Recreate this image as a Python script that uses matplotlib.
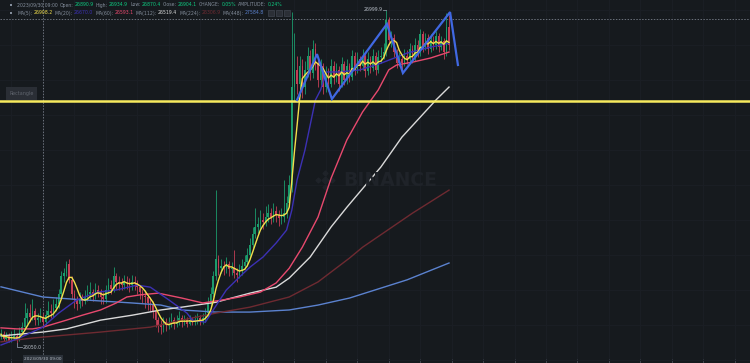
import matplotlib
matplotlib.use("Agg")
import matplotlib.pyplot as plt
import numpy as np
import pandas as pd
from matplotlib.patches import Rectangle

# ---------------- data ----------------
first_open = 26070
close = [
    26075, 26060, 26070, 26055, 26065, 26070, 26060, 26080, 26095, 26120,
    26135, 26125, 26140, 26115, 26120, 26125, 26110, 26130, 26140, 26135,
    26150, 26160, 26190, 26240, 26250, 26275, 26230, 26190, 26175, 26160,
    26175, 26170, 26180, 26190, 26195, 26185, 26200, 26195, 26180, 26175,
    26200, 26215, 26205, 26240, 26225, 26220, 26215, 26225, 26220, 26215,
    26225, 26220, 26210, 26195, 26185, 26180, 26165, 26160, 26140, 26115,
    26100, 26095, 26110, 26100, 26105, 26115, 26105, 26110, 26120, 26110,
    26115, 26105, 26115, 26110, 26115, 26120, 26110, 26120, 26135, 26160,
    26190, 26240, 26290, 26265, 26270, 26265, 26275, 26260, 26265, 26250,
    26245, 26255, 26270, 26280, 26300, 26330, 26360, 26380, 26390, 26400,
    26395, 26410, 26420, 26410, 26425, 26415, 26405, 26410, 26420, 26450,
    26500, 26780, 26830, 26790, 26840, 26780, 26830, 26870, 26820, 26890,
    26850, 26800, 26840, 26780, 26820, 26790, 26840, 26810, 26830, 26790,
    26845, 26800, 26840, 26810, 26870, 26830, 26860, 26840, 26870, 26825,
    26860, 26835, 26870, 26830, 26865, 26870, 26880, 26970, 26915, 26920,
    26880, 26850, 26860, 26850, 26870, 26860, 26890, 26865, 26900, 26880,
    26930, 26895, 26920, 26890, 26915, 26900, 26925, 26895, 26910, 26880,
    26950, 26900]
high = [
    26090, 26085, 26080, 26078, 26085, 26090, 26078, 26095, 26110, 26165,
    26150, 26160, 26175, 26150, 26135, 26150, 26135, 26145, 26170, 26160,
    26175, 26180, 26205, 26255, 26265, 26285, 26290, 26240, 26200, 26185,
    26195, 26190, 26200, 26215, 26225, 26205, 26220, 26215, 26205, 26195,
    26215, 26235, 26230, 26268, 26250, 26240, 26235, 26245, 26240, 26235,
    26245, 26240, 26230, 26215, 26205, 26200, 26190, 26180, 26170, 26150,
    26125, 26115, 26125, 26120, 26125, 26135, 26125, 26130, 26140, 26130,
    26130, 26125, 26130, 26125, 26130, 26135, 26130, 26135, 26150, 26180,
    26210, 26255, 26486, 26300, 26290, 26285, 26295, 26285, 26280, 26315,
    26265, 26275, 26290, 26300, 26320, 26350, 26380, 26435, 26410, 26430,
    26420, 26440, 26445, 26435, 26450, 26440, 26430, 26435, 26515, 26470,
    26530, 26995, 26935, 26870, 26870, 26860, 26855, 26895, 26885, 26915,
    26905, 26865, 26860, 26850, 26840, 26835, 26860, 26855, 26850, 26840,
    26865, 26855, 26860, 26850, 26885, 26880, 26880, 26870, 26890, 26880,
    26880, 26870, 26890, 26880, 26885, 26895, 26905, 26999.9, 26980, 26940,
    26930, 26890, 26880, 26875, 26890, 26885, 26905, 26900, 26920, 26915,
    26945, 26940, 26935, 26930, 26930, 26925, 26940, 26935, 26925, 26920,
    26990, 26985]
low = [
    26060, 26056, 26055, 26052, 26053, 26058, 26050, 26055, 26072, 26090,
    26105, 26110, 26115, 26100, 26100, 26110, 26095, 26100, 26120, 26120,
    26125, 26140, 26150, 26180, 26225, 26240, 26220, 26175, 26150, 26145,
    26150, 26155, 26160, 26170, 26175, 26170, 26175, 26180, 26160, 26160,
    26165, 26190, 26190, 26195, 26205, 26200, 26200, 26205, 26205, 26195,
    26200, 26200, 26190, 26175, 26165, 26150, 26145, 26140, 26120, 26095,
    26080, 26075, 26080, 26085, 26090, 26095, 26090, 26095, 26100, 26095,
    26100, 26095, 26100, 26100, 26100, 26105, 26100, 26105, 26110, 26125,
    26150, 26180, 26230, 26245, 26250, 26245, 26250, 26240, 26245, 26235,
    26225, 26235, 26245, 26260, 26270, 26290, 26320, 26350, 26365, 26375,
    26375, 26385, 26395, 26390, 26395, 26395, 26385, 26390, 26395, 26405,
    26440, 26480, 26740, 26760, 26760, 26750, 26760, 26810, 26800, 26805,
    26830, 26780, 26785, 26760, 26765, 26770, 26780, 26790, 26795, 26770,
    26780, 26785, 26790, 26795, 26800, 26815, 26820, 26825, 26830, 26810,
    26815, 26820, 26825, 26815, 26820, 26850, 26860, 26870, 26900, 26895,
    26865, 26835, 26840, 26830, 26840, 26845, 26850, 26850, 26855, 26865,
    26870, 26880, 26885, 26875, 26880, 26885, 26890, 26880, 26885, 26860,
    26870, 26885]

ma20_idx = [0, 7, 16, 22, 29, 37, 44, 52, 57, 64, 71, 73, 78, 81, 86, 91, 95,
            100, 105, 109, 111, 113, 116, 120, 122, 124, 129, 137, 145, 155, 164, 171]
ma20_val = [26044, 26064, 26095, 26135, 26173, 26195, 26201, 26215, 26209, 26173,
            26135, 26115, 26109, 26144, 26201, 26238, 26266, 26295, 26335, 26372,
            26429, 26515, 26600, 26743, 26772, 26823, 26823, 26829, 26848, 26877,
            26894, 26905]
ma60_idx = [0, 6, 12, 16, 25, 31, 38, 44, 48, 53, 60, 69, 77, 85, 91, 99, 105,
            110, 115, 121, 126, 132, 138, 144, 148, 151, 157, 164, 171]
ma60_val = [26093, 26090, 26090, 26095, 26115, 26129, 26144, 26164, 26181, 26187,
            26192, 26178, 26164, 26173, 26181, 26195, 26221, 26263, 26323, 26409,
            26520, 26629, 26709, 26772, 26829, 26843, 26851, 26863, 26880]
ma112_idx = [0, 16, 25, 38, 50, 61, 69, 82, 95, 105, 110, 118, 126, 132, 145,
             153, 166, 171]
ma112_val = [26070, 26081, 26090, 26115, 26129, 26144, 26152, 26166, 26192, 26209,
             26235, 26295, 26381, 26437, 26552, 26637, 26743, 26780]
ma224_idx = [0, 12, 38, 57, 69, 82, 95, 110, 121, 133, 138, 157, 171]
ma224_val = [26053, 26064, 26081, 26095, 26115, 26135, 26152, 26181, 26224, 26292,
             26323, 26420, 26486]
ma448_idx = [0, 16, 31, 50, 61, 69, 82, 95, 110, 121, 133, 155, 171]
ma448_val = [26210, 26181, 26173, 26164, 26158, 26144, 26138, 26138, 26144, 26158,
             26178, 26230, 26278]

zigzag_idx = [113, 120.6, 126.3, 147.3, 153.4, 171.4, 174.4]
zigzag_val = [26743, 26874, 26746, 26960, 26820, 26994, 26843]

hline_price = 26740
cross_idx = 16
cross_price = 26974
max_label = "26999.9"
min_label = "26050.0"

header_time = "2023/09/30 09:00"
header_ohlc = [("Open:", "26890.9"), ("High:", "26934.9"), ("Low:", "26870.4"),
               ("Close:", "26904.1"), ("CHANGE:", "0.05%"), ("AMPLITUDE:", "0.24%")]
ma_labels = ["MA(5):", "MA(20):", "MA(60):", "MA(112):", "MA(224):", "MA(448):"]
ma_values = ["26908.2", "26670.0", "26593.1", "26519.4", "26306.9", "27584.8"]

# ---------------- style ----------------
BG = "#161a1e"
GREEN = "#1b9c6c"
RED = "#c43f56"
C_MA5 = "#f3e04c"
C_MA20 = "#3c31b4"
C_MA60 = "#e8496e"
C_MA112 = "#dadada"
C_MA224 = "#6e2a31"
C_MA448 = "#5b82cf"
C_ZZ = "#4068e2"
C_HL = "#f7ea5e"
GRAY = "#848e9c"
TGREEN = "#0ecb81"

W, H = 750, 363
fig = plt.figure(figsize=(W / 100, H / 100), dpi=100, facecolor=BG)
ax = fig.add_axes([0, 0, 1, 1])
ax.set_facecolor(BG)
ppc = 2.62
ax.set_xlim(-1.0 / ppc, (W - 1.0) / ppc)
ax.set_ylim(25992.7, 27028.4)
for s in ax.spines.values():
    s.set_visible(False)

ax.set_xticks(np.arange(4, 290, 12))
ax.set_yticks(np.arange(26000, 27050, 100))
ax.tick_params(axis="x", direction="in", length=3, width=0.6, color="#474d57",
               labelbottom=False, bottom=True, top=False)
ax.tick_params(axis="y", left=False, labelleft=False)
ax.grid(True, color="#1b1f25", lw=0.7, zorder=0)
ax.set_axisbelow(True)

n = min(len(close), len(high), len(low))
c = np.array(close[:n], dtype=float)
h = np.array(high[:n], dtype=float)
l = np.array(low[:n], dtype=float)
o = np.r_[first_open, c[:-1]]
idx = np.arange(n)
cols = np.where(c >= o, GREEN, RED)
ax.vlines(idx, l, h, colors=cols, lw=0.6, zorder=2)
body_lo = np.minimum(o, c)
body_h = np.maximum(np.abs(c - o), 3)
ax.bar(idx, body_h, bottom=body_lo, width=0.6, color=cols, lw=0, zorder=2)

ma5 = pd.Series(c).rolling(5, min_periods=1).mean()
lw = 1.0
ax.plot(ma448_idx, ma448_val, color=C_MA448, lw=lw, zorder=3)
ax.plot(ma224_idx, ma224_val, color=C_MA224, lw=lw, zorder=3)
ax.plot(ma112_idx, ma112_val, color=C_MA112, lw=lw, zorder=3)
ax.plot(ma60_idx, ma60_val, color=C_MA60, lw=lw, zorder=3)
ax.plot(ma20_idx, ma20_val, color=C_MA20, lw=lw, zorder=3)
ax.plot(idx, ma5, color=C_MA5, lw=lw, zorder=3.5)

# crosshair
ax.axvline(cross_idx, color="#6b717b", lw=0.7, ls=(0, (1.5, 1.5)), zorder=1)
ax.axhline(cross_price, color="#6b717b", lw=0.7, ls=(0, (1.5, 1.5)), zorder=1)

# horizontal drawing line and zigzag
ax.axhline(hline_price, color=C_HL, lw=1.8, zorder=4)
ax.plot(zigzag_idx, zigzag_val, color=C_ZZ, lw=1.6, zorder=5, solid_joinstyle="miter")

# max / min labels
imax = int(np.argmax(h))
imin = int(np.argmin(l))
ax.plot([imax - 1.1, imax], [h[imax], h[imax]], color=GRAY, lw=0.6, zorder=5)
ax.text(imax - 1.3, h[imax], max_label, ha="right", va="center", fontsize=3.3,
        color="#b7bdc6", zorder=6)
ax.plot([imin, imin, imin + 2], [l[imin], l[imin] - 12, l[imin] - 12], color=GRAY,
        lw=0.6, zorder=5)
ax.text(imin + 2.3, l[imin] - 12, min_label, ha="left", va="center", fontsize=3.3,
        color="#b7bdc6", zorder=6)

# watermark
WM = "#1f2329"
fig.text(390 / W, 1 - 180 / H, "BINANCE", ha="center", va="center", fontsize=13.5,
         fontweight="bold", color=WM, zorder=1)
for dx, dy, ms in [(0, 0, 3.5), (-7, 0, 2.5), (7, 0, 2.5), (0, -7, 2.5), (0, 7, 2.5)]:
    ax.plot([(325 + dx) / W], [1 - (180 + dy) / H], marker="D", ms=ms, color=WM,
            transform=ax.transAxes, zorder=1)

# "Rectangle" label
fig.patches.append(Rectangle((6 / W, 1 - 100 / H), 31 / W, 13 / H, transform=fig.transFigure,
                             facecolor="#2a2e35", edgecolor="none", zorder=6))
fig.text(21.5 / W, 1 - 93.5 / H, "Rectangle", ha="center", va="center", fontsize=3.5,
         color="#5f646d", zorder=7)

# bottom crosshair time label
fig.patches.append(Rectangle((23 / W, 0), 40 / W, 8 / H, transform=fig.transFigure,
                             facecolor="#2b3139", edgecolor="none", zorder=6))
fig.text(43 / W, 1 - 359 / H, header_time, ha="center", va="center", fontsize=3.1,
         color="#b7bdc6", zorder=7)

# header
renderer = fig.canvas.get_renderer()
FS = 3.3


def draw_runs(runs, x_px, y_px):
    x = x_px
    for txt, col, gap in runs:
        t = fig.text(x / W, 1 - y_px / H, txt, color=col, fontsize=FS, ha="left",
                     va="center", zorder=8)
        bb = t.get_window_extent(renderer=renderer)
        x = bb.x1 + gap
    return x


for yy in (5, 13):
    fig.patches.append(Rectangle((10 / W, 1 - (yy + 1) / H), 2 / W, 2 / H,
                                 transform=fig.transFigure, facecolor=GRAY,
                                 edgecolor="none", zorder=8))

runs1 = [(header_time, GRAY, 2.0)]
for lab, val in header_ohlc:
    runs1.append((lab, GRAY, 1.2))
    runs1.append((val, TGREEN, 2.0))
draw_runs(runs1, 17, 5)

ma_cols = [C_MA5, C_MA20, C_MA60, C_MA112, C_MA224, C_MA448]
runs2 = []
for lab, val, col in zip(ma_labels, ma_values, ma_cols):
    runs2.append((lab, GRAY, 1.2))
    runs2.append((val, col, 2.0))
xe = draw_runs(runs2, 17, 13)
for k in range(3):
    fig.patches.append(Rectangle(((xe + 2 + 8 * k) / W, 1 - 16 / H), 6 / W, 6 / H,
                                 transform=fig.transFigure, facecolor="#2b2f36",
                                 edgecolor="#474d57", lw=0.4, zorder=8))

fig.savefig("out.png", dpi=100, facecolor=BG)
